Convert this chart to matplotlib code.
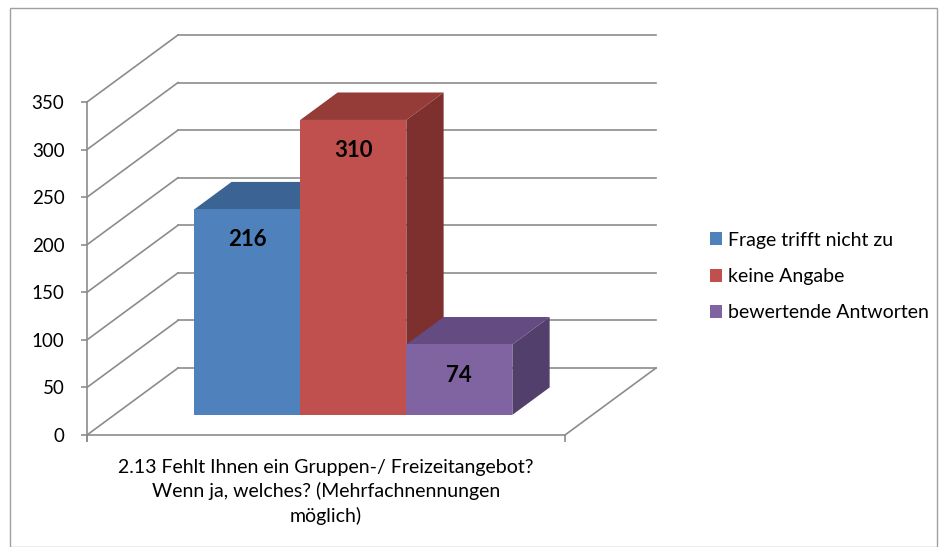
import matplotlib.pyplot as plt
from matplotlib.patches import Polygon, Rectangle

plt.rcParams['font.family'] = ['Lato', 'DejaVu Sans']

categories = ["Frage trifft nicht zu", "keine Angabe", "bewertende Antworten"]
values = [216, 310, 74]
yticks = [0, 50, 100, 150, 200, 250, 300, 350]
xlabel = "2.13 Fehlt Ihnen ein Gruppen-/ Freizeitangebot?\nWenn ja, welches? (Mehrfachnennungen\nmöglich)"

front_colors = ["#4F81BD", "#C0504D", "#8064A2"]
top_colors = ["#3B6393", "#953B38", "#644B81"]
side_colors = ["#345480", "#7D302E", "#533F6B"]
grid_col = "#8C8C8C"

W, H = 939, 547
fig = plt.figure(figsize=(W / 100, H / 100), dpi=100)

# chart frame
fig.patches.append(Rectangle((10 / W, 0), 927 / W, 1 - 8 / H, transform=fig.transFigure,
                             fill=False, edgecolor="#A0A0A0", linewidth=1))

ax = fig.add_axes([87 / W, 1 - 435 / H, 478 / W, 333 / H])
ymax = 350
ax.set_xlim(0, 1)
ax.set_ylim(0, ymax)

# depth offsets (x in axis units, y in value units)
DX = 91 / 478
DY = 67 * ymax / 333


def proj(x, y, z):
    return (x + z * DX, y + z * DY)


# back wall and side wall gridlines
for v in yticks:
    x0, y0 = proj(0, v, 1)
    x1, y1 = proj(1, v, 1)
    ax.plot([x0, x1], [y0, y1], color=grid_col, lw=1.2, clip_on=False, zorder=1)
    ax.plot([0, x0], [v, y0], color=grid_col, lw=1.2, clip_on=False, zorder=1)
# floor right edge
xa, ya = proj(1, 0, 1)
ax.plot([1, xa], [0, ya], color=grid_col, lw=1.2, clip_on=False, zorder=1)

# bars
z0, z1 = 0.3, 0.71
w = 0.2218
lefts = [0.5 - 1.5 * w + i * w for i in range(len(values))]
base = z0 * DY
handles = []
for i, (l, v) in enumerate(zip(lefts, values)):
    xl = l + z0 * DX
    xr = xl + w
    top = base + v
    d = (z1 - z0)
    side = [(xr, base), (xr + d * DX, base + d * DY), (xr + d * DX, top + d * DY), (xr, top)]
    ax.add_patch(Polygon(side, closed=True, facecolor=side_colors[i], edgecolor="none",
                         clip_on=False, zorder=2 + i))
    tp = [(xl, top), (xl + d * DX, top + d * DY), (xr + d * DX, top + d * DY), (xr, top)]
    ax.add_patch(Polygon(tp, closed=True, facecolor=top_colors[i], edgecolor="none",
                         clip_on=False, zorder=2 + i))
    b = ax.bar(xl, v, width=w, bottom=base, align="edge", color=front_colors[i],
               label=categories[i], clip_on=False, zorder=2 + i)
    handles.append(b)
    ax.annotate(str(v), (xl + w / 2, top), xytext=(0, -22), textcoords="offset points",
                ha="center", va="center", fontsize=16, fontweight="bold", zorder=10)

# axes styling
for s in ["top", "right"]:
    ax.spines[s].set_visible(False)
ax.spines["left"].set_color(grid_col)
ax.spines["bottom"].set_color(grid_col)
ax.spines["left"].set_linewidth(1.2)
ax.spines["bottom"].set_linewidth(1.2)
ax.spines["left"].set_bounds(-6, ymax)
ax.patch.set_visible(False)
ax.set_yticks(yticks)
ax.set_xticks([0, 1])
ax.set_xticklabels(["", ""])
ax.tick_params(axis="y", length=4.3, width=1.2, color=grid_col, labelsize=13.5, pad=12)
ax.tick_params(axis="x", length=5, width=1.2, color=grid_col)

fig.text(326 / W, 1 - 492 / H, xlabel, ha="center", va="center", fontsize=14,
         linespacing=1.45)

fig.legend(handles=handles, labels=categories, loc="center left",
           bbox_to_anchor=(700 / W, 1 - 276.5 / H), frameon=False, fontsize=14,
           borderpad=0, handlelength=0.65, handleheight=0.65, handletextpad=0.3,
           labelspacing=1.0)

fig.savefig("out.png", dpi=100)
